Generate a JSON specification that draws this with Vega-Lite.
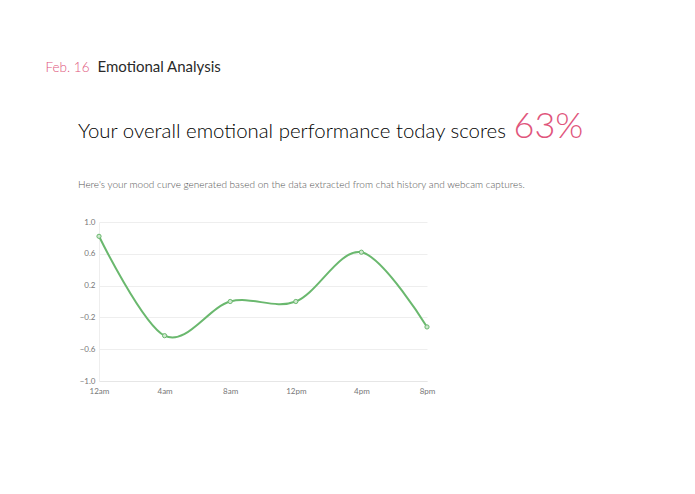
{
  "$schema": "https://vega.github.io/schema/vega-lite/v6.json",
  "autosize": {"type": "none"},
  "width": 328,
  "height": 159,
  "padding": {"left": 99, "top": 222, "right": 268, "bottom": 113},
  "background": "white",
  "config": {
    "font": "Lato",
    "view": {"stroke": null}
  },
  "title": {
    "text": "Your overall emotional performance today scores",
    "subtitle": "Here's your mood curve generated based on the data extracted from chat history and webcam captures.",
    "anchor": "start",
    "frame": "group",
    "dx": -21,
    "dy": 161,
    "offset": 30,
    "font": "Lato",
    "fontSize": 20.4,
    "fontWeight": 300,
    "color": "#000000",
    "subtitleFont": "Lato",
    "subtitleFontSize": 10,
    "subtitleFontWeight": 300,
    "subtitleColor": "#555555",
    "subtitlePadding": 38
  },
  "data": {
    "values": [
      {"time": "12am", "mood": 0.82},
      {"time": "4am", "mood": -0.43},
      {"time": "8am", "mood": 0.0},
      {"time": "12pm", "mood": 0.0},
      {"time": "4pm", "mood": 0.62},
      {"time": "8pm", "mood": -0.32}
    ]
  },
  "layer": [
    {
      "mark": {"type": "line", "interpolate": "cardinal", "tension": 0, "color": "#6ab86e", "strokeWidth": 2},
      "encoding": {
        "x": {
          "field": "time", "type": "ordinal", "sort": null,
          "scale": {"type": "point", "padding": 0},
          "axis": {
            "labelAngle": 0, "labelFontSize": 8, "labelColor": "#777777", "labelPadding": 6,
            "ticks": false, "domainColor": "#e6e6e6", "grid": false,
            "title": "Emotional Analysis", "titleX": -2, "titleY": -310,
            "titleAlign": "left", "titleBaseline": "alphabetic", "titleAngle": 0,
            "titleFontSize": 15, "titleFontWeight": 400, "titleColor": "#2a2a2a"
          }
        },
        "y": {
          "field": "mood", "type": "quantitative",
          "scale": {"domain": [-1, 1], "nice": false, "zero": false},
          "axis": {
            "values": [-1, -0.6, -0.2, 0.2, 0.6, 1.0], "format": ".1f",
            "labelFontSize": 8, "labelColor": "#777777", "labelPadding": 4,
            "ticks": false, "domainColor": "#eeeeee", "gridColor": "#eeeeee",
            "title": "Feb. 16", "titleX": -54, "titleY": -151,
            "titleAlign": "left", "titleBaseline": "alphabetic", "titleAngle": 0,
            "titleFontSize": 13.5, "titleFontWeight": 300, "titleColor": "#e0557c"
          }
        }
      }
    },
    {
      "mark": {"type": "point", "filled": true, "fill": "#cfe8cf", "stroke": "#6ab86e", "strokeWidth": 1, "size": 18, "opacity": 1},
      "encoding": {
        "x": {"field": "time", "type": "ordinal", "sort": null, "scale": {"type": "point", "padding": 0}},
        "y": {
          "field": "mood", "type": "quantitative",
          "scale": {"domain": [-1, 1], "nice": false, "zero": false},
          "axis": {
            "orient": "right", "labels": false, "ticks": false, "domain": false, "grid": false,
            "title": "63%", "titleX": 86, "titleY": -85,
            "titleAlign": "left", "titleBaseline": "alphabetic", "titleAngle": 0,
            "titleFontSize": 36, "titleFontWeight": 300, "titleColor": "#e0557c"
          }
        }
      }
    }
  ],
  "resolve": {"scale": {"y": "independent"}, "axis": {"y": "independent"}}
}
